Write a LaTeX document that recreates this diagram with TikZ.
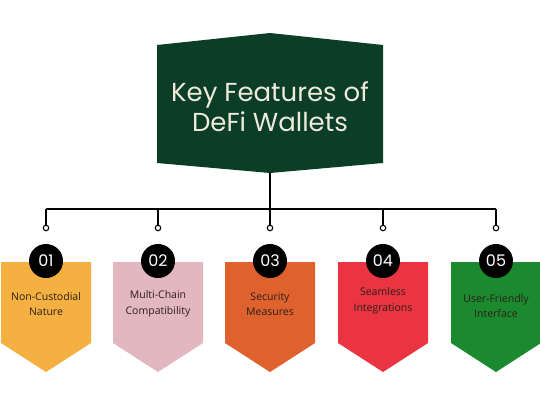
\documentclass[tikz,border=0pt]{standalone}
\usepackage{fontspec}
\setmainfont{Open Sans}
\newfontfamily\headfont{Poppins}
\definecolor{titlegreen}{HTML}{0B3D27}
\definecolor{titleink}{HTML}{EEEBDD}
\definecolor{ink}{HTML}{2A1F1A}
\definecolor{fone}{HTML}{F4B040}
\definecolor{ftwo}{HTML}{E2B7BF}
\definecolor{fthree}{HTML}{DF612D}
\definecolor{ffour}{HTML}{EB3442}
\definecolor{ffive}{HTML}{1B8A2F}

\begin{document}
\begin{tikzpicture}[x=1pt, y=-1pt, line width=1.3pt,
	label/.style={text width=88pt, align=center, text=ink, font=\fontsize{10.5}{15.5}\selectfont},
	num/.style={circle, fill=black, minimum size=34pt, inner sep=0pt, text=white, font=\headfont\fontsize{16}{16}\selectfont},
	dot/.style={circle, draw, fill=white, minimum size=5.5pt, inner sep=0pt, line width=1.1pt}]
	\useasboundingbox (0,0) rectangle (540,405);

	% title block
	\fill [titlegreen] (157,45) -- (270,33) -- (383,45) -- (383,163) -- (270,173) -- (157,163) -- cycle;
	\node [text=titleink, align=center, font=\headfont\fontsize{26}{30}\selectfont] (title) at (270,107) {Key Features of\\DeFi Wallets};
	\coordinate (top) at (270,173);

	% feature boxes
	\fill [fone] (1,262) -- (91,262) -- (91,343) -- (46,372) -- (1,343) -- cycle;
	\fill [ftwo] (113,262) -- (203,262) -- (203,343) -- (158,372) -- (113,343) -- cycle;
	\fill [fthree] (225,262) -- (315,262) -- (315,343) -- (270,372) -- (225,343) -- cycle;
	\fill [ffour] (338,262) -- (428,262) -- (428,343) -- (383,372) -- (338,343) -- cycle;
	\fill [ffive] (451,262) -- (541,262) -- (541,343) -- (496,372) -- (451,343) -- cycle;

	\node [label] (A) at (46,304) {Non-Custodial\\Nature};
	\node [label] (B) at (158,304) {Multi-Chain\\Compatibility};
	\node [label] (C) at (270,304) {Security\\Measures};
	\node [label] (D) at (383,301) {Seamless\\Integrations};
	\node [label] (E) at (496,306) {User-Friendly\\Interface};

	\node [num] (nA) at (46,261) {01};
	\node [num] (nB) at (158,261) {02};
	\node [num] (nC) at (270,261) {03};
	\node [num] (nD) at (383,261) {04};
	\node [num] (nE) at (496,261) {05};

	% connectors
	\coordinate (hA) at (46,209);
	\coordinate (hB) at (158,209);
	\coordinate (hC) at (270,209);
	\coordinate (hD) at (383,209);
	\coordinate (hE) at (496,209);
	\node [dot] (pA) at (46,228) {};
	\node [dot] (pB) at (158,228) {};
	\node [dot] (pC) at (270,228) {};
	\node [dot] (pD) at (383,228) {};
	\node [dot] (pE) at (496,228) {};

	\draw (top) -- (hC);
	\draw (hA) -- (hE);
	\draw (hA) -- (pA);
	\draw (hB) -- (pB);
	\draw (hC) -- (pC);
	\draw (hD) -- (pD);
	\draw (hE) -- (pE);
\end{tikzpicture}
\end{document}
